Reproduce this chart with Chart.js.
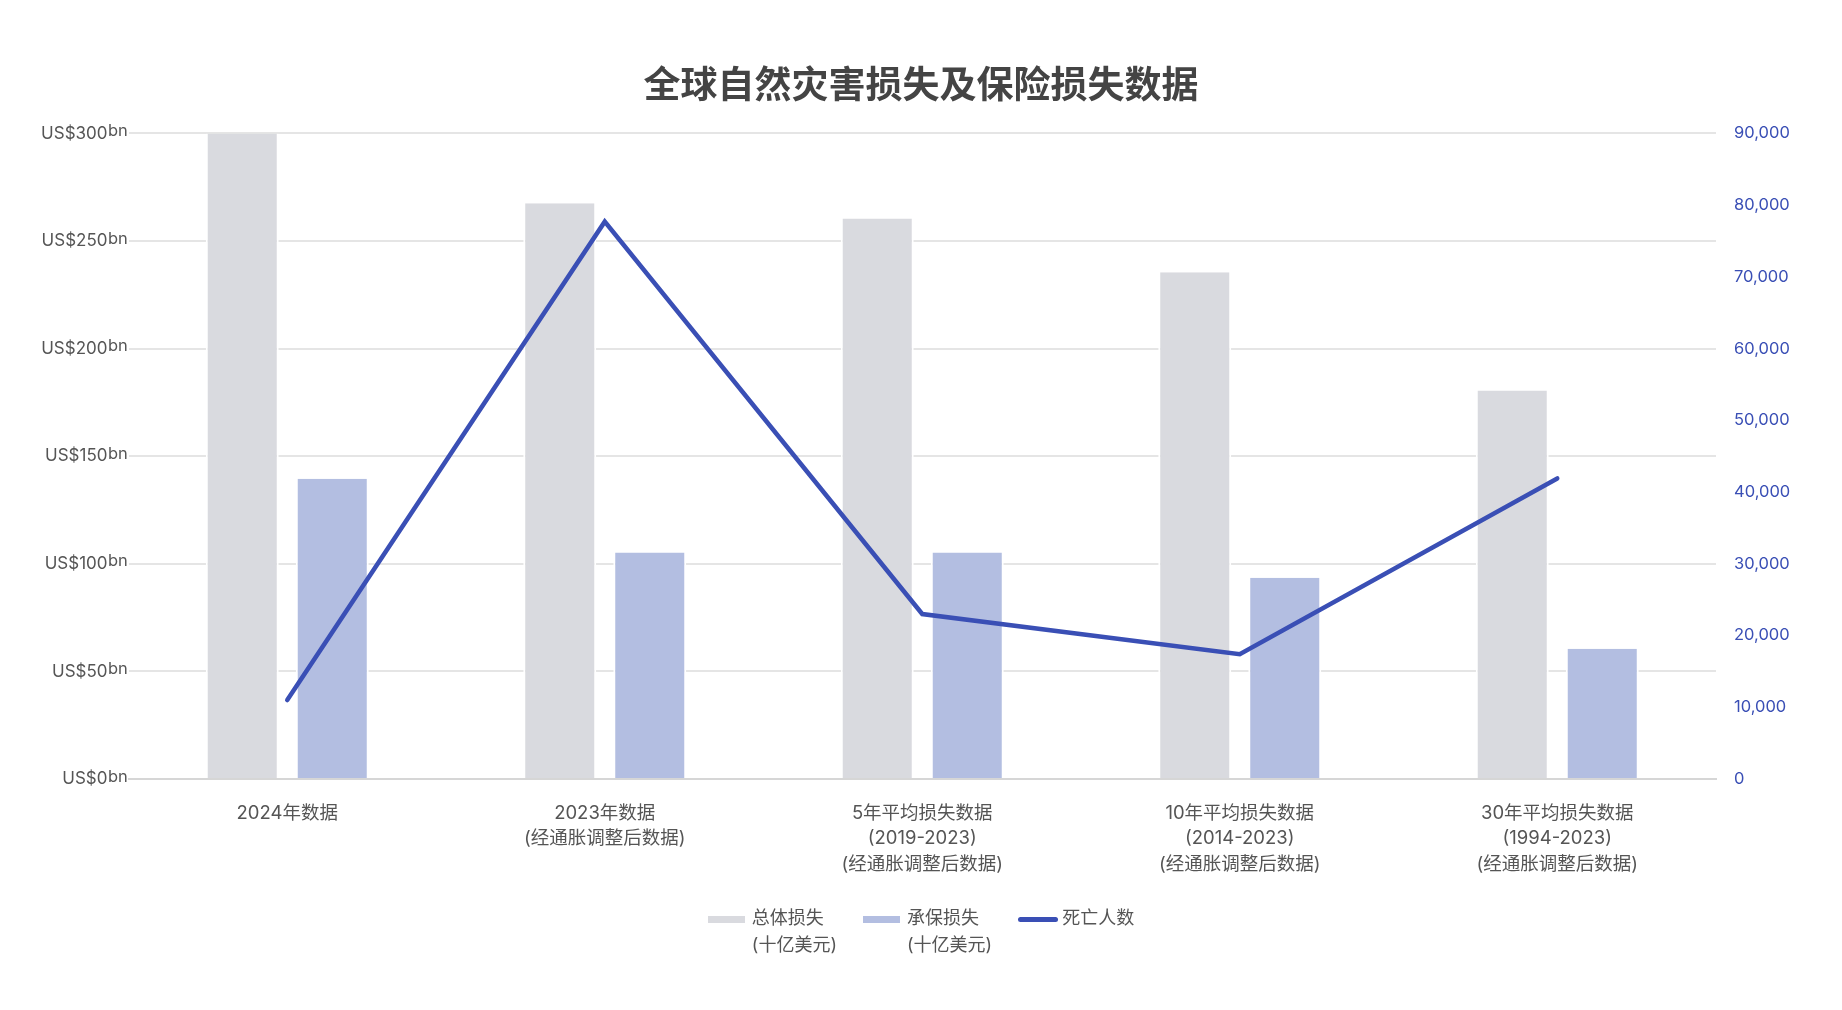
<!DOCTYPE html>
<html>
<head>
<meta charset="utf-8">
<script src="https://cdn.jsdelivr.net/npm/chart.js@4/dist/chart.umd.min.js"></script>
<style>
    html, body { margin: 0; padding: 0; background: #fff; }
    #wrap { position: relative; width: 1842px; height: 1010px; }
    #legend {
        position: absolute; left: 0; top: 904px; width: 1842px;
        display: flex; justify-content: center; align-items: flex-start;
        font-family: Inter, "Noto Sans CJK SC", sans-serif; font-size: 18px; color: #555;
    }
    .item { display: flex; align-items: flex-start; margin-right: 26px; }
    .item:last-child { margin-right: 0; }
    .sw { width: 37px; height: 7px; margin-top: 12px; margin-right: 7px; }
    .sw.line { width: 40px; height: 5px; margin-top: 13px; margin-right: 4px; border-radius: 3px; }
    .txt { line-height: 27px; white-space: nowrap; }
</style>
</head>
<body>
<div id="wrap">
    <canvas id="Chart" width="1842" height="1010"></canvas>
    <div id="legend"></div>
</div>
<script>
const categories = [
    ['2024年数据'],
    ['2023年数据', '(经通胀调整后数据)'],
    ['5年平均损失数据', '(2019-2023)', '(经通胀调整后数据)'],
    ['10年平均损失数据', '(2014-2023)', '(经通胀调整后数据)'],
    ['30年平均损失数据', '(1994-2023)', '(经通胀调整后数据)']
];
// 十亿美元
const totalLosses = [300, 267.5, 260.5, 235.5, 180.5];
const insuredLosses = [139.5, 105.2, 105.2, 93.5, 60.5];
// 人
const deaths = [11000, 77700, 23000, 17400, 41900];

const labelTotal = ['总体损失', '(十亿美元)'];
const labelInsured = ['承保损失', '(十亿美元)'];
const labelDeaths = ['死亡人数'];

const colorTotal = '#d9dadf';
const colorInsured = '#b3bee1';
const colorLine = '#3a4fb5';
const fontFamily = 'Inter, "Noto Sans CJK SC", sans-serif';

// 上标 "bn"
const bnSuffix = {
    id: 'bnSuffix',
    afterDraw(chart) {
        const y = chart.scales.y;
        const ctx = chart.ctx;
        ctx.save();
        ctx.font = '16.5px ' + fontFamily;
        ctx.fillStyle = '#555';
        ctx.textAlign = 'left';
        ctx.textBaseline = 'alphabetic';
        y.ticks.forEach(t => {
            ctx.fillText('bn', chart.chartArea.left - 20.5, y.getPixelForValue(t.value) + 2.5);
        });
        ctx.restore();
    }
};

const chart = new Chart(document.getElementById('Chart'), {
    type: 'bar',
    data: {
        labels: categories,
        datasets: [
            {
                type: 'line',
                label: labelDeaths.join(''),
                data: deaths,
                yAxisID: 'y1',
                borderColor: colorLine,
                backgroundColor: colorLine,
                borderWidth: 4.5,
                borderCapStyle: 'round',
                pointRadius: 0,
                tension: 0,
                order: 0
            },
            {
                label: labelTotal.join(''),
                data: totalLosses,
                yAxisID: 'y',
                backgroundColor: colorTotal,
                borderColor: '#ffffff',
                borderWidth: { left: 2, right: 2, top: 0, bottom: 0 },
                borderSkipped: false,
                categoryPercentage: 0.567,
                barPercentage: 0.811,
                order: 1
            },
            {
                label: labelInsured.join(''),
                data: insuredLosses,
                yAxisID: 'y',
                backgroundColor: colorInsured,
                borderColor: '#ffffff',
                borderWidth: { left: 2, right: 2, top: 0, bottom: 0 },
                borderSkipped: false,
                categoryPercentage: 0.567,
                barPercentage: 0.811,
                order: 1
            }
        ]
    },
    options: {
        responsive: false,
        animation: false,
        devicePixelRatio: 1,
        layout: { padding: 0 },
        plugins: {
            legend: { display: false },
            tooltip: { enabled: false },
            title: {
                display: true,
                text: '全球自然灾害损失及保险损失数据',
                color: '#444',
                font: { family: fontFamily, size: 37, weight: 'bold', lineHeight: 1.2 },
                padding: { top: 65, bottom: 24 }
            }
        },
        scales: {
            x: {
                grid: { display: false, drawTicks: false },
                border: { display: true, color: '#d6d6d6', width: 2 },
                ticks: {
                    color: '#555',
                    padding: 21,
                    maxRotation: 0,
                    autoSkip: false,
                    font: { family: fontFamily, size: 18.5, lineHeight: 1.4 }
                },
                afterFit(scale) { scale.height = 231; }
            },
            y: {
                position: 'left',
                min: 0,
                max: 300,
                border: { display: false },
                grid: { color: '#e5e5e5', lineWidth: 2, drawTicks: false },
                ticks: {
                    stepSize: 50,
                    color: '#555',
                    padding: 21,
                    font: { family: fontFamily, size: 17 },
                    callback: v => 'US$' + v
                },
                afterFit(scale) { scale.width = 128.5; }
            },
            y1: {
                position: 'right',
                min: 0,
                max: 90000,
                border: { display: false },
                grid: { display: false, drawTicks: false },
                ticks: {
                    stepSize: 10000,
                    color: colorLine,
                    padding: 18,
                    font: { family: fontFamily, size: 16.5 },
                    callback: v => v.toLocaleString('en-US')
                },
                afterFit(scale) { scale.width = 126; }
            }
        }
    },
    plugins: [bnSuffix]
});

// 图例
const legendItems = [
    { text: labelTotal, color: colorTotal, line: false },
    { text: labelInsured, color: colorInsured, line: false },
    { text: labelDeaths, color: colorLine, line: true }
];
const legend = document.getElementById('legend');
legendItems.forEach(it => {
    const item = document.createElement('div');
    item.className = 'item';
    const sw = document.createElement('div');
    sw.className = it.line ? 'sw line' : 'sw';
    sw.style.background = it.color;
    const txt = document.createElement('div');
    txt.className = 'txt';
    txt.innerHTML = it.text.join('<br>');
    item.appendChild(sw);
    item.appendChild(txt);
    legend.appendChild(item);
});
</script>
</body>
</html>
